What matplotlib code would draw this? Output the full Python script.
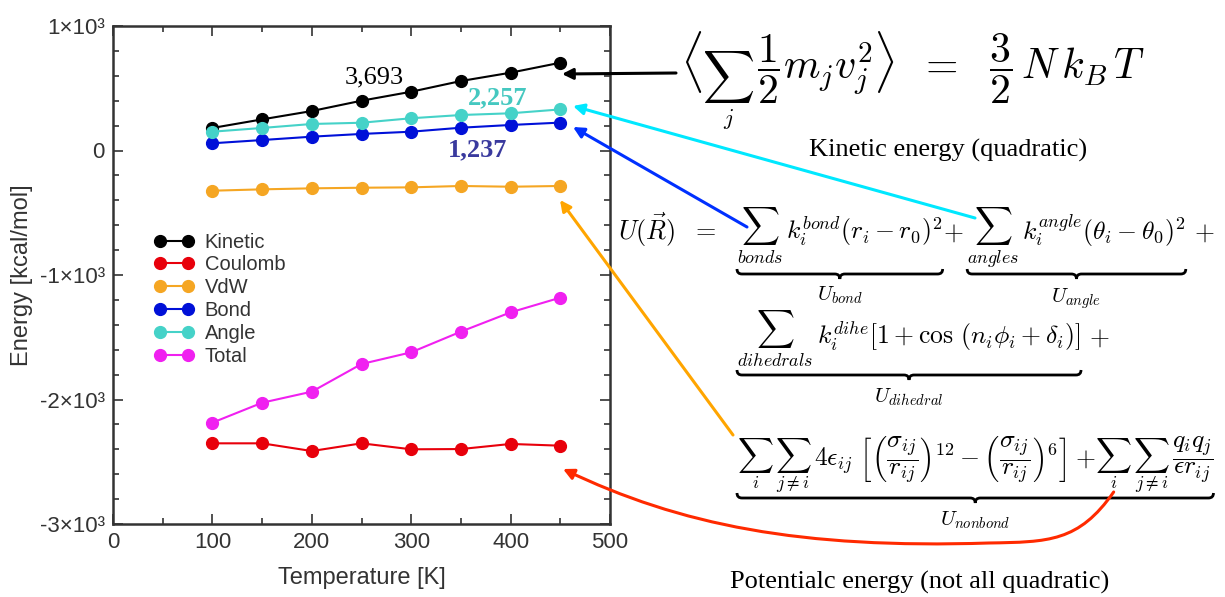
import numpy as np
import matplotlib
matplotlib.use("Agg")
import matplotlib.pyplot as plt
import matplotlib.transforms as mtransforms
from matplotlib.patches import FancyArrowPatch, PathPatch
from matplotlib.path import Path
from matplotlib.ticker import MultipleLocator, FixedLocator

plt.rcParams['font.family'] = ['Liberation Sans', 'DejaVu Sans']

# data (kcal/mol vs K)
temps = [100, 150, 200, 250, 300, 350, 400, 450]
kinetic = [181, 250, 317, 400, 472, 558, 625, 705]
coulomb = [-2352, -2352, -2414, -2352, -2400, -2398, -2357, -2371]
vdw = [-323, -312, -304, -299, -296, -285, -291, -285]
bond = [58, 84, 111, 133, 151, 183, 205, 224]
angle = [151, 181, 213, 223, 259, 285, 299, 330]
total = [-2186, -2026, -1937, -1715, -1621, -1455, -1300, -1182]

series_names = ["Kinetic", "Coulomb", "VdW", "Bond", "Angle", "Total"]
series_values = [kinetic, coulomb, vdw, bond, angle, total]
series_colors = ["#000000", "#e8000b", "#f5a623", "#0010d8", "#45d2c8", "#f020f0"]

yticks = [1000, 0, -1000, -2000, -3000]
ytick_labels = ["1×10³", "0", "-1×10³", "-2×10³", "-3×10³"]

W, H = 1225, 597
fig = plt.figure(figsize=(W / 100, H / 100), dpi=100)
rend = fig.canvas.get_renderer()
# pixel coords with origin at top left
px = mtransforms.Affine2D().scale(1 / W, -1 / H).translate(0, 1) + fig.transFigure

ax = fig.add_axes([113 / W, 1 - 524 / H, 497 / W, 498 / H])
for name, vals, col in zip(series_names, series_values, series_colors):
    ax.plot(temps, vals, '-o', color=col, lw=1.5, ms=8.5, label=name)

ax.set_xlim(0, 500)
ax.set_ylim(-3000, 1000)
ax.xaxis.set_major_locator(MultipleLocator(100))
ax.xaxis.set_minor_locator(MultipleLocator(50))
ax.yaxis.set_major_locator(FixedLocator(yticks))
ax.set_yticklabels(ytick_labels)
ax.yaxis.set_minor_locator(MultipleLocator(200))
ax.tick_params(which='both', direction='in', top=True, right=True,
               colors='#333333', labelsize=16, width=1.2)
ax.tick_params(which='major', length=7, pad=6)
ax.tick_params(which='minor', length=4)
for s in ax.spines.values():
    s.set_linewidth(1.8)
    s.set_color('#333333')
ax.set_xlabel("Temperature [K]", fontsize=17, color='#333333', labelpad=10)
ax.set_ylabel("Energy [kcal/mol]", fontsize=17, color='#333333', labelpad=5)

leg = ax.legend(loc='upper left', bbox_to_anchor=(0.083, 0.585), frameon=False,
                fontsize=14.5, numpoints=2, handlelength=2.0, handletextpad=0.5,
                labelspacing=0.19, borderpad=0, borderaxespad=0)
for t in leg.get_texts():
    t.set_color('#333333')

# value labels
fig.text(374, 77, "3,693", transform=px, family='Liberation Serif', fontsize=19,
         ha='center', va='center', color='black')
fig.text(498, 98, "2,257", transform=px, family='Liberation Serif', fontsize=19,
         ha='center', va='center', color='#45c8c0', weight='bold')
fig.text(478, 150, "1,237", transform=px, family='Liberation Serif', fontsize=19,
         ha='center', va='center', color='#3a3a9e', weight='bold')


# equations, laid out piece by piece
def put(x, y, s, size, va='baseline'):
    t = fig.text(x, y, s, transform=px, fontsize=size, ha='left', va=va,
                 math_fontfamily='cm', color='black')
    return t, t.get_window_extent(renderer=rend).width


def flow(x, base, sig_y, lim_y, pieces, size, sig_size, lim_size):
    spans = []
    for kind, s, *rest in pieces:
        if kind == 'gap':
            x += s
            continue
        if kind == 'sum':
            ts, ws = put(x, sig_y, r'$\sum$', sig_size, va='center')
            tl, wl = put(x, lim_y, '$' + s + '$', lim_size)
            w = max(ws, wl)
            ts.set_position((x + (w - ws) / 2, sig_y))
            tl.set_position((x + (w - wl) / 2, lim_y))
        elif kind == 'big':
            t, w = put(x, rest[0], s, rest[1], va='center')
        else:
            t, w = put(x, base, s, size)
        spans.append((x, x + w))
        x += w
    return spans


def underbrace(x0, x1, y0, h=5):
    xm = (x0 + x1) / 2
    verts = [(x0, y0), (x0, y0 + h), (x0 + h, y0 + h), (xm - h, y0 + h),
             (xm, y0 + h), (xm, y0 + 2 * h), (xm, y0 + h), (xm + h, y0 + h),
             (x1 - h, y0 + h), (x1, y0 + h), (x1, y0)]
    codes = [Path.MOVETO, Path.CURVE3, Path.CURVE3, Path.LINETO,
             Path.CURVE3, Path.CURVE3, Path.CURVE3, Path.CURVE3,
             Path.LINETO, Path.CURVE3, Path.CURVE3]
    fig.add_artist(PathPatch(Path(verts, codes), transform=px, fill=False,
                             lw=2, color='black'))


def brace_label(x0, x1, y0, lab_y, s):
    underbrace(x0, x1, y0)
    fig.text((x0 + x1) / 2, lab_y, s, transform=px, fontsize=15, ha='center',
             va='baseline', math_fontfamily='cm')


# kinetic energy
flow(680, 79, 77, 125, [
    ('big', r'$\langle$', 62, 37),
    ('sum', 'j'),
    ('gap', 3),
    ('txt', r'$\dfrac{1}{2}m_j v_j^2$'),
    ('big', r'$\rangle$', 62, 37),
    ('txt', r'$\ \ =\ \ \dfrac{3}{2}\,N\,k_B\,T$'),
], 30, 26, 16)

# potential energy
put(618, 240, r'$U(\vec{R})\ \ =$', 18.8)
sp = flow(737, 240, 226, 263, [
    ('sum', 'bonds'), ('gap', 3),
    ('txt', r'$k_i^{bond}(r_i-r_0)^2$'),
    ('txt', r'$+$'),
    ('gap', 4),
    ('sum', 'angles'), ('gap', 3),
    ('txt', r'$k_i^{angle}(\theta_i-\theta_0)^2$'),
    ('txt', r'$\,+$'),
], 18.5, 19, 13)
brace_label(sp[0][0], sp[1][1], 269, 300, r'$U_{bond}$')
brace_label(sp[3][0], sp[4][1], 269, 302, r'$U_{angle}$')

sp = flow(737, 345, 329, 366, [
    ('sum', 'dihedrals'), ('gap', 4),
    ('txt', r'$k_i^{dihe}[1+\cos\,(n_i\phi_i+\delta_i)]$'),
    ('txt', r'$\,+$'),
], 18.5, 19, 13)
brace_label(sp[0][0], sp[1][1], 370, 402, r'$U_{dihedral}$')

sp = flow(737, 466, 455, 488, [
    ('sum', 'i'), ('gap', 1), ('sum', r'j\neq i'), ('gap', 3),
    ('txt', r'$4\epsilon_{ij}\ \left[\left(\dfrac{\sigma_{ij}}{r_{ij}}\right)^{12}'
            r'-\left(\dfrac{\sigma_{ij}}{r_{ij}}\right)^{6}\right]$'),
    ('txt', r'$\,+$'),
    ('sum', 'i'), ('gap', 1), ('sum', r'j\neq i'), ('gap', 2),
    ('txt', r'$\dfrac{q_iq_j}{\epsilon r_{ij}}$'),
], 18.5, 18, 13)
brace_label(sp[0][0], sp[-1][1], 493, 525, r'$U_{nonbond}$')
red_start = ((sp[4][0] + sp[4][1]) / 2, 492)

fig.text(948, 150, "Kinetic energy (quadratic)", transform=px, family='Liberation Serif',
         fontsize=19, ha='center', va='center')
fig.text(920, 582, "Potentialc energy (not all quadratic)", transform=px,
         family='Liberation Serif', fontsize=19, ha='center', va='center')

# arrows
arrows = [((676, 73), (562, 74), 'black'),
          ((975, 218), (573, 106), '#00e8ff'),
          ((747, 227), (573, 127), '#0030ff'),
          ((733, 435), (560, 200), '#ffa500')]
for tail, head, col in arrows:
    fig.add_artist(FancyArrowPatch(tail, head, transform=px, arrowstyle='-|>',
                                   mutation_scale=16, lw=2.2, color=col,
                                   shrinkA=0, shrinkB=0))

rx, ry = red_start
red_verts = [(rx, ry), (rx - 35, ry + 50), (rx - 65, ry + 50), (rx - 125, ry + 51),
             (800, 549), (680, 525), (563, 469)]
red_codes = [Path.MOVETO, Path.CURVE4, Path.CURVE4, Path.CURVE4,
             Path.CURVE4, Path.CURVE4, Path.CURVE4]
fig.add_artist(FancyArrowPatch(path=Path(red_verts, red_codes), transform=px,
                               arrowstyle='-|>', mutation_scale=16, lw=2.2,
                               color='#ff2a00'))

fig.savefig("out.png", dpi=100)
